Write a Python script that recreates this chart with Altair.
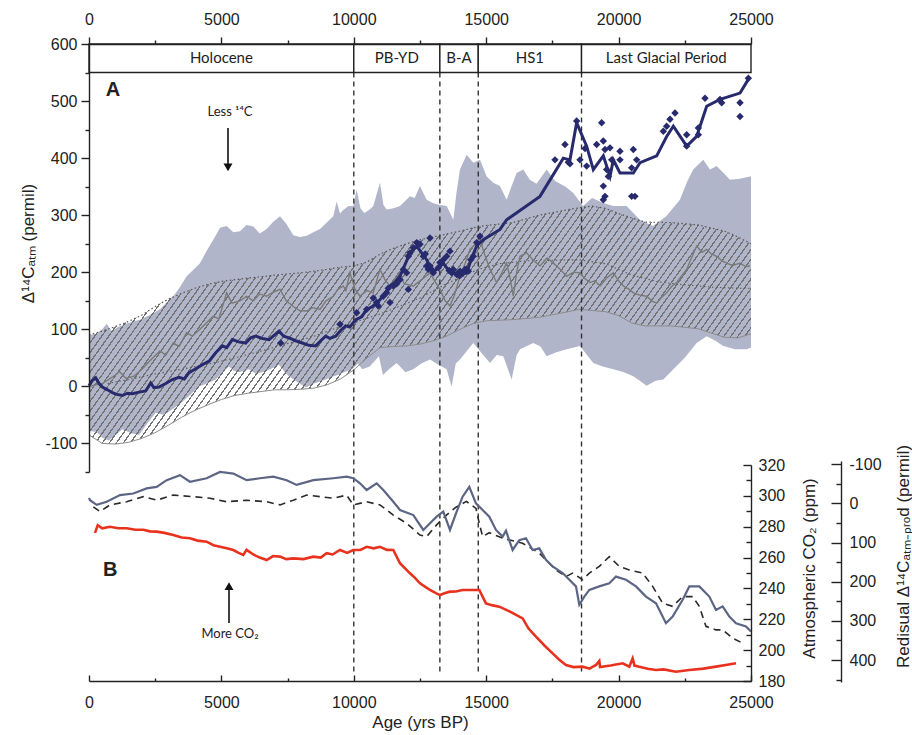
import altair as alt
import pandas as pd

# ---------------- data ----------------
epoch_names = ["Holocene", "PB-YD", "B-A", "HS1", "Last Glacial Period"]
epoch_start = [0, 10000, 13250, 14700, 18600]
epoch_end = [10000, 13250, 14700, 18600, 25000]
boundary_years = [10000, 13250, 14700, 18600]

env_up_yr = [0, 250, 500, 668, 850, 1100, 1400, 1700, 1926, 2300, 2681, 2950, 3184, 3450, 3688, 3950, 4191, 4450,
             4694, 4950, 5198, 5450, 5702, 5950, 6205, 6450, 6709, 6950, 7212, 7450, 7715, 7967, 8219, 8470, 8723,
             8950, 9226, 9352, 9480, 9604, 9800, 9981, 10107, 10250, 10400, 10600, 10737, 10988, 11120, 11240, 11500,
             11744, 12122, 12300, 12499, 12751, 13003, 13250, 13507, 13758, 13880, 14009, 14262, 14514, 14766, 15017,
             15269, 15521, 15772, 15950, 16150, 16400, 16650, 16900, 17283, 17600, 18000, 18289, 18654, 19000, 19400,
             19800, 20303, 20800, 21297, 21800, 22316, 22600, 22819, 23197, 23450, 23700, 24000, 24204, 24582, 24960,
             25000]
env_up = [90, 92, 100, 110, 97, 104, 110, 114, 117, 125, 135, 148, 158, 175, 193, 205, 216, 238,
          257, 278, 281, 270, 272, 283, 280, 268, 276, 288, 298, 285, 265, 262, 264, 270, 276,
          286, 298, 324, 303, 309, 316, 316, 345, 312, 304, 310, 316, 357, 318, 310, 312,
          316, 333, 330, 351, 327, 321, 318, 316, 292, 340, 380, 406, 392, 397, 368,
          357, 351, 327, 350, 374, 380, 362, 355, 380, 360, 350, 339, 316, 330, 322,
          316, 316, 292, 281, 298, 327, 360, 380, 397, 380, 386, 372, 362, 364, 368,
          368]

env_lo_yr = [0, 300, 500, 755, 1000, 1259, 1600, 1888, 2200, 2517, 2830, 3146, 3450, 3776, 4154, 4450, 4783, 5050,
             5286, 5450, 5664, 6042, 6300, 6545, 6850, 7175, 7400, 7552, 7850, 8181, 8500, 8811, 9100, 9440, 9700,
             9944, 10150, 10322, 10600, 10951, 11100, 11328, 11618, 11950, 12247, 12550, 12877, 13200, 13506, 13695,
             13850, 14010, 14513, 14800, 15143, 15400, 15646, 15961, 16150, 16276, 16779, 17050, 17283, 17650, 18038,
             18541, 19045, 19400, 19800, 20200, 20556, 20800, 21060, 21400, 21690, 22067, 22500, 22948, 23326, 23655,
             23955, 24400, 24837, 25000]
env_lo = [-78, -80, -90, -95, -85, -75, -82, -85, -65, -46, -50, -40, -30, -17, 0, 5, 12, 25,
          35, 28, 25, 30, 22, 25, 30, 38, 25, 18, 8, -2, 5, 10, 15, 21, 26,
          30, 40, 30, 35, 53, 20, 30, 41, 25, 30, 40, 47, 38, 30, 0,
          40, 47, 76, 60, 41, 55, 53, 12, 55, 65, 76, 70, 53, 60, 65,
          71, 41, 35, 30, 25, 18, 10, 1, 10, 12, 30, 50, 76, 88, 80,
          71, 65, 65, 68]

hatch_yr = [0, 500, 1000, 1500, 2000, 2500, 3000, 3500, 4000, 4500, 5000, 5500, 6000, 6500, 7000, 7500, 8000, 8500,
            9000, 9500, 10000, 10500, 11000, 11500, 12000, 12500, 13000, 13500, 14000, 14500, 15000, 16000, 17000,
            18000, 18500, 19000, 19500, 20000, 20500, 21000, 22000, 23000, 24000, 24500, 25000]
hatch_hi = [90, 97, 105, 114, 125, 140, 153, 163, 172, 179, 184, 187, 190, 192, 195, 197, 199, 202,
            205, 209, 211, 218, 232, 242, 250, 257, 262, 267, 272, 278, 282, 287, 300,
            309, 313, 316, 312, 303, 295, 288, 287, 283, 272, 262, 250]
hatch_lo = [-85, -100, -101, -98, -91, -81, -68, -54, -42, -32, -23, -16, -12, -9, -6, -6, -5, -3,
            3, 13, 29, 50, 68, 70, 71, 74, 80, 88, 100, 110, 115, 117, 121,
            130, 135, 133, 131, 124, 111, 106, 106, 101, 86, 85, 92]

inner_yr = [700, 1500, 2500, 3500, 4700, 5500, 6500, 7500, 8500, 9200, 10000, 11000, 11600, 12500, 13500, 14700,
            15500, 16500, 18500, 19500, 20500, 21500, 22500, 23500, 24500, 25000]
inner_val = [5, 12, 22, 30, 41, 50, 62, 75, 88, 100, 112, 127, 138, 155, 180, 205,
             215, 220, 222, 215, 195, 183, 178, 174, 172, 172]

mean_yr = [0, 500, 1000, 1150, 1400, 1700, 2000, 2300, 2681, 2900, 3184, 3400, 3688, 3900, 4191, 4450, 4694, 4900,
           5198, 5400, 5700, 5954, 6200, 6450, 6709, 6950, 7212, 7450, 7715, 7950, 8219, 8450, 8723, 8950, 9226,
           9400, 9604, 9700, 9855, 10050, 10233, 10500, 10736, 10988, 11200, 11366, 11600, 11743, 11900, 12247,
           12500, 12877, 13050, 13254, 13450, 13632, 13800, 14010, 14200, 14387, 14600, 14765, 14950, 15143, 15394,
           15600, 15772, 15900, 16024, 16150, 16276, 16528, 16800, 17031, 17300, 17535, 17800, 18038, 18300, 18541,
           18700, 18920, 19100, 19297, 19550, 19800, 20000, 20178, 20400, 20556, 20800, 21060, 21250, 21438, 21600,
           21815, 22000, 22193, 22400, 22571, 22750, 22948, 23150, 23326, 23500, 23704, 23900, 24082, 24300, 24585,
           24800, 24963]
mean_val = [0, 5, 20, 26, 14, 18, 30, 45, 62, 55, 76, 70, 94, 88, 100, 112, 123, 118,
            164, 146, 150, 158, 150, 162, 158, 165, 170, 150, 140, 133, 132, 138, 135, 150, 158,
            170, 176, 168, 199, 170, 158, 168, 164, 205, 185, 176, 190, 199, 180, 176,
            185, 199, 185, 170, 150, 141, 160, 193, 215, 240, 250, 257, 230, 205, 182,
            200, 216, 190, 158, 200, 228, 234, 220, 211, 225, 216, 205, 193, 200, 199,
            190, 182, 185, 176, 190, 199, 185, 176, 170, 164, 160, 158, 150, 146, 155,
            164, 175, 182, 195, 205, 225, 246, 235, 240, 232, 228, 220, 216, 212, 216,
            210, 211]

navy_yr = [0, 120, 252, 380, 504, 700, 881, 1050, 1259, 1450, 1637, 1900, 2140, 2329, 2450, 2644, 2900, 3148, 3400,
           3600, 3777, 4000, 4281, 4550, 4784, 5036, 5200, 5414, 5650, 5917, 6100, 6295, 6550, 6799, 7000, 7176,
           7350, 7554, 7800, 8058, 8300, 8561, 8750, 8939, 9100, 9317, 9500, 9694, 9850, 10072, 10300, 10485, 10700,
           10989, 11200, 11366, 11550, 11744, 11950, 12122, 12373, 12550, 12751, 13003, 13200, 13380, 13550, 13758,
           14000, 14262, 14450, 14640, 14890, 15521, 15772, 17031, 17912, 18164, 18416, 18793, 19045, 19423, 19675,
           19801, 20052, 20556, 20808, 21438, 21815, 22067, 22571, 22948, 23326, 23830, 24585, 24900]
navy_val = [1, 10, 15, 5, -1, -6, -11, -14, -16, -12, -13, -10, -8, 6, -2, -1, 5, 12, 16,
            13, 24, 30, 38, 45, 59, 71, 68, 82, 78, 76, 85, 88, 84, 82, 90, 97,
            88, 85, 80, 76, 72, 71, 80, 88, 84, 88, 98, 106, 104, 117, 122, 135, 140,
            152, 165, 176, 182, 193, 215, 234, 246, 235, 222, 199, 210, 216, 205, 199,
            197, 199, 225, 246, 257, 275, 292, 333, 400, 397, 462, 421, 380, 404, 368,
            397, 374, 374, 392, 404, 438, 456, 421, 438, 491, 503, 514, 538]

pts_yr = [7240, 9478, 10107, 10485, 10737, 10863, 10926, 11114, 11240, 11300, 11366, 11492, 11620, 11744, 11870,
          11996, 12059, 12060, 12122, 12248, 12374, 12430, 12500, 12625, 12700, 12751, 12814, 12877, 12877, 12940,
          13003, 13192, 13255, 13300, 13381, 13507, 13600, 13632, 13696, 13758, 13885, 14000, 14010, 14136, 14200,
          14262, 14325, 14420, 14514, 14640, 14766,
          17598, 17975, 18101, 18164, 18416, 18541, 18731, 18793, 19171, 19360, 19423, 19486, 19549, 19612, 19423,
          19486, 19423, 19675, 19738, 20052, 20052, 20493, 20556, 20682, 20493, 20619, 21689, 21815, 21941, 22130,
          22571, 22571, 23011, 23011, 23263, 23830, 23893, 24585, 24585, 24900]
pts_val = [76, 109, 129, 135, 155, 147, 141, 158, 164, 172, 147, 176, 180, 187, 205,
           199, 170, 228, 234, 243, 252, 250, 249, 228, 232, 211, 205, 260, 211, 205,
           199, 208, 217, 215, 222, 228, 203, 237, 199, 205, 196, 194, 202, 199, 205,
           205, 202, 222, 228, 252, 263,
           397, 424, 393, 390, 465, 397, 417, 386, 424, 462, 430, 415, 380, 368, 351,
           333, 327, 418, 397, 412, 397, 383, 415, 397, 333, 333, 447, 456, 468, 479,
           441, 421, 453, 441, 505, 503, 497, 497, 473, 540]

co2_yr = [227, 330, 500, 793, 1100, 1423, 1750, 2052, 2300, 2555, 2850, 3184, 3500, 3814, 4100, 4443, 4700, 4946,
          5200, 5450, 5650, 5828, 5950, 6205, 6450, 6709, 6950, 7212, 7450, 7715, 8100, 8471, 8750, 8974, 9200,
          9478, 9750, 9981, 10250, 10485, 10750, 10988, 11250, 11492, 11744, 12122, 12300, 12499, 12700, 12877,
          13100, 13255, 13450, 13632, 13858, 14100, 14362, 14739, 14991, 15250, 15495, 15900, 16376, 16600, 16879,
          17200, 17509, 17750, 18013, 18300, 18642, 18900, 19146, 19271, 19300, 19700, 20153, 20404, 20530, 20600,
          20782, 21100, 21412, 21700, 22167, 22671, 23200, 23678, 24100, 24434]
co2_val = [276, 281, 279, 280, 279, 279, 278, 278, 277, 276.8, 276, 274.6, 273, 272.5, 271, 270.3, 268, 267,
           266, 264.9, 263, 261.7, 265, 262, 260, 258.4, 261, 260.6, 259, 259.5, 259, 260.6, 260, 262.8, 262,
           264.9, 263, 264.9, 265, 267, 266, 267, 265, 264.9, 256.3, 249.8, 247, 243.3, 241, 239,
           237, 235.7, 237, 237.9, 238, 239, 239, 239, 230.3, 229, 228.2, 225, 220.6, 214, 208.7,
           203, 197.9, 194, 190.4, 189, 189.3, 188, 190.4, 193, 189, 190, 191.5, 189.3, 194.7, 190,
           189.3, 188, 187.1, 187.5, 186, 187.1, 188, 189.3, 190.5, 191.5]

res_yr = [0, 38, 290, 668, 1171, 1674, 2178, 2555, 2933, 3436, 3814, 4443, 4946, 5450, 5953, 6457, 6960, 7464,
          7841, 8471, 9226, 9729, 9981, 10233, 10485, 10863, 11114, 11492, 11744, 12248, 12625, 12877, 13129,
          13380, 13632, 13858, 14110, 14362, 14613, 14865, 15117, 15369, 15620, 15747, 15998, 16250, 16502,
          16754, 17005, 17257, 17509, 17887, 18139, 18390, 18516, 18705, 18894, 19271, 19649, 19901, 20279,
          20656, 21034, 21412, 21789, 22041, 22419, 22671, 23048, 23426, 23678, 23930, 24182, 24434, 24811, 25000]
res_val = [-14, -8, 4, -4, -21, -25, -38, -42, -59, -72, -55, -64, -80, -76, -59, -64, -68, -59,
           -47, -59, -64, -68, -64, -51, -34, -51, -34, -4, 17, 30, 68, 51, 34,
           21, 68, 26, -17, -42, 0, 17, 34, 68, 85, 70, 119, 94, 89,
           119, 115, 144, 161, 178, 195, 212, 259, 238, 221, 212, 204, 187, 195,
           212, 238, 255, 306, 289, 246, 212, 212, 238, 272, 263, 289, 306, 314, 327]

res2_yr = [164, 416, 793, 1423, 2052, 2555, 3184, 3939, 4569, 5198, 5953, 6709, 7212, 7715, 8219, 8723, 9226,
           9729, 9981, 10485, 10988, 11492, 11996, 12499, 12751, 13129, 13500, 13858, 14250, 14613, 14739, 14865,
           15117, 15620, 16376, 17005, 17635, 18013, 18264, 18642, 18894, 19271, 19649, 20027, 20404, 20908,
           21286, 21664, 22041, 22419, 22797, 23048, 23300, 23678, 23930, 24308, 24685]
res2_val = [9, 21, 4, -4, -17, -8, -21, -17, -13, -4, -8, -4, 4, -8, -21, -17, -13,
            -21, 4, -4, 4, 30, 51, 81, 85, 55, 30, 10, -5, 13, 51, 85,
            75, 89, 102, 127, 170, 187, 178, 195, 178, 161, 136, 161, 170, 178,
            212, 255, 263, 238, 238, 263, 314, 323, 323, 344, 357]

panel_letters = ["A", "B"]
x_ticks_major = [0, 5000, 10000, 15000, 20000, 25000]
x_ticks_minor = [2500, 7500, 12500, 17500, 22500]
top_ticks_major = [-100, 0, 100, 200, 300, 400, 500, 600]
top_ticks_minor = [-150, -50, 50, 150, 250, 350, 450, 550]
co2_ticks_major = [180, 200, 220, 240, 260, 280, 300, 320]
co2_ticks_minor = [190, 210, 230, 250, 270, 290, 310]
res_ticks_major = [-100, 0, 100, 200, 300, 400]
res_ticks_minor = [-50, 50, 150, 250, 350, 450]

# ---------------- layout / style ----------------
W, H = 662, 637
SC = {
    "top": ([-150, 600], [428, 0]),
    "co2": ([180, 320], [637, 421]),
    "res": ([-108, 456], [417, 638]),
}
XS = alt.Scale(domain=[0, 25000], nice=False, zero=False)

NAVY = "#272a6c"
ENV = "#b0b5ca"
INK = "#222222"
FONT = "Liberation Sans"
LFONT = "Lato"
PLAIN = "toString(datum.value)"


def X(field, axis=None):
    return alt.X(field, type="quantitative", scale=XS, axis=axis)


def Y(field, kind, axis=None):
    d, r = SC[kind]
    return alt.Y(field, type="quantitative",
                 scale=alt.Scale(domain=d, range=r, nice=False, zero=False), axis=axis)


AX = dict(labelFont=FONT, labelFontSize=16, labelColor=INK, domainColor=INK, tickColor=INK,
          domainWidth=1.4, tickWidth=1.4, grid=False, zindex=2, labelFlush=False,
          labelOverlap=False, titleFont=FONT, titleFontSize=17, titleColor=INK,
          titleFontWeight="normal")


def tick_axis(orient, values, size, offset=0):
    return alt.Axis(orient=orient, values=values, tickSize=size, labels=False, domain=False,
                    title=None, offset=offset, **AX)


x_top = alt.Axis(orient="top", values=x_ticks_major, tickSize=7, labelPadding=10, title=None,
                 labelExpr=PLAIN, **AX)
x_bottom = alt.Axis(orient="bottom", values=x_ticks_major, ticks=False, tickSize=0, labelPadding=13,
                    labelExpr=PLAIN, title="Age (yrs BP)", titleX=331, titleY=41, titleAlign="center",
                    titleBaseline="middle", **AX)
y_left = alt.Axis(orient="left", values=top_ticks_major, tickSize=8, labelPadding=4, labelExpr=PLAIN,
                  title="Δ¹⁴Cₐₜₘ (permil)", titleAngle=270, titleX=-61, titleY=199,
                  titleAlign="center", titleBaseline="middle", **AX)
co2_axis = alt.Axis(orient="right", values=co2_ticks_major, ticks=False, tickSize=0, labelPadding=7,
                    labelExpr=PLAIN, title="Atmospheric CO₂ (ppm)", titleAngle=270, titleX=58, titleY=524,
                    titleAlign="center", titleBaseline="middle", **AX)
res_axis = alt.Axis(orient="right", offset=90, values=res_ticks_major, ticks=False, tickSize=0,
                    labelPadding=8, labelExpr=PLAIN, title="Redisual Δ¹⁴Cₐₜₘ₋ₚᵣₒd (permil)",
                    titleAngle=270, titleX=62, titleY=512, titleAlign="center", titleBaseline="middle", **AX)

# hatch pattern as a striped linear gradient
HW, HH, SLOPE, SPACING, DUTY = 662.0, 238.0, 1.4, 7.0, 0.22
STRIPE, CLEAR = "#727272", "rgba(114,114,114,0)"
ratio = SLOPE * HW / HH
gb = (ratio + 1) / (ratio ** 2 + 1)
ga = ratio * gb
t_top = ga / (ga * ga + gb * gb)
NS = int(round((HW / SPACING) / t_top))
stops = []
for i in range(NS):
    o0, o1, o2 = round(i / NS, 6), round((i + DUTY) / NS, 6), round((i + 1) / NS, 6)
    stops += [alt.GradientStop(color=STRIPE, offset=o0), alt.GradientStop(color=STRIPE, offset=o1),
              alt.GradientStop(color=CLEAR, offset=o1), alt.GradientStop(color=CLEAR, offset=o2)]
hatch_fill = alt.LinearGradient(gradient="linear", stops=stops, x1=0, y1=0, x2=ga, y2=gb)

# ---------------- tables ----------------
d_envu = pd.DataFrame({"yr": env_up_yr, "v": env_up})
d_envl = pd.DataFrame({"yr": env_lo_yr, "v": env_lo})
d_hatch = pd.DataFrame({"yr": hatch_yr, "hi": hatch_hi, "lo": hatch_lo})
d_inner = pd.DataFrame({"yr": inner_yr, "v": inner_val})
d_mean = pd.DataFrame({"yr": mean_yr, "v": mean_val})
d_navy = pd.DataFrame({"yr": navy_yr, "v": navy_val})
d_pts = pd.DataFrame({"yr": pts_yr, "v": pts_val})
d_co2 = pd.DataFrame({"yr": co2_yr, "v": co2_val})
d_res = pd.DataFrame({"yr": res_yr, "v": res_val})
d_res2 = pd.DataFrame({"yr": res2_yr, "v": res2_val})
d_ep = pd.DataFrame({"name": epoch_names, "s": epoch_start, "e": epoch_end})
d_ep["mid"] = (d_ep["s"] + d_ep["e"]) / 2
d_ep["ytop"], d_ep["ybot"], d_ep["ylab"] = 600, 550, 575
d_bd = pd.DataFrame({"yr": boundary_years, "y1": 550, "y2": -505})
d_txt_top = pd.DataFrame({"yr": [906, 5324], "v": [520, 480], "t": [panel_letters[0], "Less ¹⁴C"],
                          "bold": [True, False]})
d_arr_top = pd.DataFrame({"yr": [5249], "a": [453], "b": [385], "tip": [384]})
d_txt_bot = pd.DataFrame({"yr": [800, 5324], "v": [251.9, 210.5], "t": [panel_letters[1], "More CO₂"]})
d_arr_bot = pd.DataFrame({"yr": [5287], "a": [217.6], "b": [240], "tip": [241.5]})

# ---------------- layers ----------------
layers = []
layers.append(alt.Chart(d_envu).mark_area(color=ENV, opacity=1).encode(
    x=X("yr", x_top), y=Y("v", "top", y_left), y2=alt.datum(-150)))
layers.append(alt.Chart(d_envl).mark_area(color="white", opacity=1).encode(
    x=X("yr", tick_axis("top", x_ticks_minor, 4)),
    y=Y("v", "top", tick_axis("left", top_ticks_minor, 4)), y2=alt.datum(-150)))
layers.append(alt.Chart(d_hatch).mark_area(color=hatch_fill).encode(
    x=X("yr", x_bottom), y=Y("hi", "top"), y2="lo"))
layers.append(alt.Chart(d_hatch).mark_line(color="#555555", strokeWidth=1.2, strokeDash=[1.5, 2.5]).encode(
    x=X("yr", tick_axis("top", x_ticks_major, 6, offset=-H)), y=Y("hi", "top")))
layers.append(alt.Chart(d_hatch).mark_line(color="#8c8c8c", strokeWidth=1).encode(
    x=X("yr", tick_axis("top", x_ticks_minor, 3, offset=-H)), y=Y("lo", "top")))
layers.append(alt.Chart(d_inner).mark_line(color="#5a5a5a", strokeWidth=1.1, strokeDash=[1.5, 2.5]).encode(
    x=X("yr"), y=Y("v", "top")))
layers.append(alt.Chart(d_bd).mark_rule(color="#333333", strokeWidth=1.4, strokeDash=[5, 4]).encode(
    x=X("yr"), y=Y("y1", "top"), y2="y2"))
layers.append(alt.Chart(d_mean).mark_line(color="#7a7a7a", strokeWidth=1.4).encode(
    x=X("yr"), y=Y("v", "top")))
layers.append(alt.Chart(d_navy).mark_line(color=NAVY, strokeWidth=3).encode(
    x=X("yr"), y=Y("v", "top")))
layers.append(alt.Chart(d_pts).mark_point(shape="diamond", filled=True, color=NAVY, size=55, opacity=1).encode(
    x=X("yr"), y=Y("v", "top")))
layers.append(alt.Chart(d_ep).mark_rect(fill="white", stroke=INK, strokeWidth=1.4).encode(
    x=X("s"), x2="e", y=Y("ytop", "top"), y2="ybot"))
layers.append(alt.Chart(d_ep).mark_text(font=LFONT, fontSize=15, color=INK, baseline="middle").encode(
    x=X("mid"), y=Y("ylab", "top"), text="name"))
layers.append(alt.Chart(d_txt_top).transform_filter("datum.bold").mark_text(
    font=FONT, fontSize=20, fontWeight="bold", color=INK, baseline="middle").encode(
    x=X("yr"), y=Y("v", "top"), text="t"))
layers.append(alt.Chart(d_txt_top).transform_filter("!datum.bold").mark_text(
    font=LFONT, fontSize=13, color=INK, baseline="middle").encode(
    x=X("yr"), y=Y("v", "top"), text="t"))
layers.append(alt.Chart(d_arr_top).mark_rule(color="#111111", strokeWidth=1.6).encode(
    x=X("yr"), y=Y("a", "top"), y2="b"))
layers.append(alt.Chart(d_arr_top).mark_point(shape="triangle-down", filled=True, color="#111111",
                                              size=80, opacity=1).encode(x=X("yr"), y=Y("tip", "top")))
layers.append(alt.Chart(d_co2).mark_line(color="#e8321e", strokeWidth=2.6).encode(
    x=X("yr"), y=Y("v", "co2", co2_axis)))
layers.append(alt.Chart(d_co2).mark_point(opacity=0).encode(
    y=Y("v", "co2", tick_axis("left", co2_ticks_major, 8, offset=-W))))
layers.append(alt.Chart(d_co2).mark_point(opacity=0).encode(
    y=Y("v", "co2", tick_axis("left", co2_ticks_minor, 5, offset=-W))))
layers.append(alt.Chart(d_res2).mark_line(color="#2a2a2a", strokeWidth=1.6, strokeDash=[7, 5]).encode(
    x=X("yr"), y=Y("v", "res")))
layers.append(alt.Chart(d_res).mark_line(color="#5c6684", strokeWidth=2.2).encode(
    x=X("yr"), y=Y("v", "res", res_axis)))
layers.append(alt.Chart(d_res).mark_point(opacity=0).encode(
    y=Y("v", "res", tick_axis("left", res_ticks_major, 10, offset=-(W + 90)))))
layers.append(alt.Chart(d_res).mark_point(opacity=0).encode(
    y=Y("v", "res", tick_axis("left", res_ticks_minor, 5, offset=-(W + 90)))))
layers.append(alt.Chart(d_txt_bot).transform_filter("datum.t == 'B'").mark_text(
    font=FONT, fontSize=20, fontWeight="bold", color=INK, baseline="middle").encode(
    x=X("yr"), y=Y("v", "co2"), text="t"))
layers.append(alt.Chart(d_txt_bot).transform_filter("datum.t != 'B'").mark_text(
    font=LFONT, fontSize=13, color=INK, baseline="middle").encode(
    x=X("yr"), y=Y("v", "co2"), text="t"))
layers.append(alt.Chart(d_arr_bot).mark_rule(color="#111111", strokeWidth=1.6).encode(
    x=X("yr"), y=Y("a", "co2"), y2="b"))
layers.append(alt.Chart(d_arr_bot).mark_point(shape="triangle-up", filled=True, color="#111111",
                                              size=80, opacity=1).encode(x=X("yr"), y=Y("tip", "co2")))

chart = alt.layer(*layers).resolve_scale(
    x="shared", y="independent"
).resolve_axis(
    x="independent", y="independent"
).properties(
    width=W, height=H,
    padding={"left": 89, "top": 44, "right": 161, "bottom": 54},
    autosize=alt.AutoSizeParams(type="none"),
    background="white",
).configure_view(stroke=None)

chart.save("out.html", embed_options={"renderer": "svg", "actions": False})
